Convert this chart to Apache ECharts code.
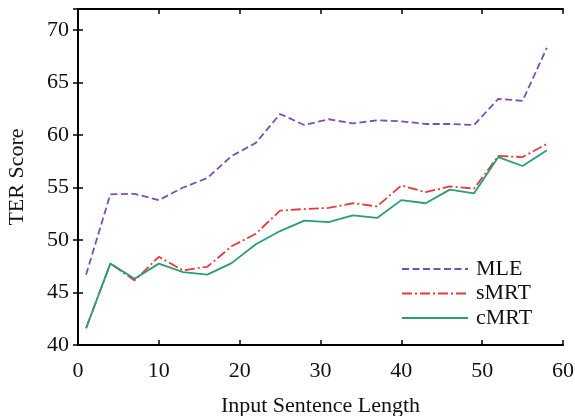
<!DOCTYPE html>
<html>
<head>
<meta charset="utf-8">
<script src="https://cdn.jsdelivr.net/npm/echarts@6/dist/echarts.min.js"></script>
<style>html,body{margin:0;padding:0;background:#fff}#c{width:575px;height:416px}</style>
</head>
<body>
<div id="c"></div>
<script>
const lengths = [1, 4, 7, 10, 13, 16, 19, 22, 25, 28, 31, 34, 37, 40, 43, 46, 49, 52, 55, 58];
const mle  = [46.7, 54.35, 54.4, 53.8, 55.0, 55.9, 58.0, 59.25, 62.0, 60.95, 61.5, 61.1, 61.4, 61.3, 61.05, 61.05, 60.95, 63.45, 63.25, 68.3];
const smrt = [41.6, 47.75, 46.15, 48.4, 47.1, 47.45, 49.4, 50.6, 52.8, 52.95, 53.05, 53.5, 53.2, 55.2, 54.55, 55.1, 54.9, 58.0, 57.9, 59.15];
const cmrt = [41.6, 47.75, 46.3, 47.75, 46.95, 46.7, 47.8, 49.6, 50.85, 51.85, 51.7, 52.35, 52.1, 53.8, 53.5, 54.8, 54.45, 57.9, 57.05, 58.55];
const xTicks = [0, 10, 20, 30, 40, 50, 60];
const yTicks = [40, 45, 50, 55, 60, 65, 70];
const seriesNames = ['MLE', 'sMRT', 'cMRT'];

const FONT = '"Liberation Serif", "Times New Roman", serif';
const chart = echarts.init(document.getElementById('c'), null, {renderer: 'canvas'});
const zip = arr => arr.map((v, i) => [lengths[i], v]);
const axisCommon = {
  axisLine: {show: true, lineStyle: {color: '#000', width: 2}},
  axisTick: {show: true, inside: true, length: 5, lineStyle: {color: '#000', width: 1.5}},
  splitLine: {show: false}
};
chart.setOption({
  animation: false,
  backgroundColor: '#fff',
  grid: {left: 78, right: 12, top: 9, bottom: 71, containLabel: false, outerBoundsMode: 'none'},
  legend: {
    orient: 'vertical', left: 396, top: 253,
    data: seriesNames,
    itemWidth: 66, itemHeight: 12, itemGap: 2.5,
    itemStyle: {opacity: 0},
    textStyle: {fontFamily: FONT, fontSize: 22, color: '#111', padding: [0, 0, 0, 3]}
  },
  xAxis: [
    Object.assign({}, axisCommon, {
      type: 'value', min: xTicks[0], max: xTicks[xTicks.length - 1], interval: 10, position: 'bottom',
      name: 'Input Sentence Length', nameLocation: 'middle', nameGap: 50,
      nameTextStyle: {fontFamily: FONT, fontSize: 22, color: '#111'},
      axisLabel: {fontFamily: FONT, fontSize: 22, color: '#111', margin: 15}
    }),
    Object.assign({}, axisCommon, {
      type: 'value', min: xTicks[0], max: xTicks[xTicks.length - 1], interval: 10, position: 'top',
      axisLabel: {show: false}
    })
  ],
  yAxis: [
    Object.assign({}, axisCommon, {
      type: 'value', min: 40, max: 72, interval: 5, position: 'left',
      name: 'TER Score', nameLocation: 'middle', nameGap: 50, nameRotate: 90,
      nameTextStyle: {fontFamily: FONT, fontSize: 22, color: '#111'},
      axisLabel: {fontFamily: FONT, fontSize: 22, color: '#111', margin: 9,
        formatter: v => yTicks.indexOf(v) >= 0 ? String(v) : ''}
    }),
    Object.assign({}, axisCommon, {
      type: 'value', min: 40, max: 72, interval: 5, position: 'right',
      axisLabel: {show: false}
    })
  ],
  series: [
    {name: 'MLE', type: 'line', data: zip(mle), symbol: 'none',
     lineStyle: {color: '#7a4fb5', width: 1.8, type: [7, 3.5]}, itemStyle: {color: '#7a4fb5'}},
    {name: 'sMRT', type: 'line', data: zip(smrt), symbol: 'none',
     lineStyle: {color: '#e63a3e', width: 1.8, type: [10, 3, 2, 3]}, itemStyle: {color: '#e63a3e'}},
    {name: 'cMRT', type: 'line', data: zip(cmrt), symbol: 'none',
     lineStyle: {color: '#2a9d78', width: 1.8, type: 'solid'}, itemStyle: {color: '#2a9d78'}}
  ]
});
</script>
</body>
</html>
